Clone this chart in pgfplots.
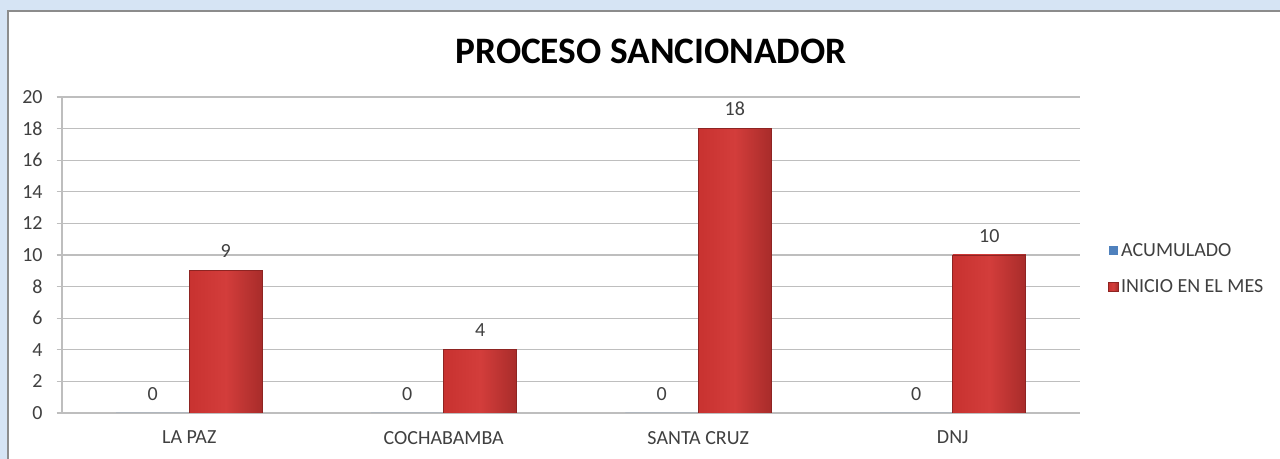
\documentclass[border=0pt]{standalone}
\usepackage{fontspec}
\setmainfont{Carlito}
\usepackage{pgfplots}
\pgfplotsset{compat=1.18}
\definecolor{bgblue}{HTML}{D6E4F4}
\definecolor{framegray}{HTML}{8C8C8C}
\definecolor{gridgray}{HTML}{BEBEBE}
\definecolor{txtgray}{HTML}{404040}
\definecolor{accblue}{HTML}{4F81BD}
\definecolor{redL}{HTML}{C83230}
\definecolor{redM}{HTML}{D33D3B}
\definecolor{redR}{HTML}{A82C2A}
\definecolor{redE}{HTML}{8E2422}
\begin{document}
\begin{tikzpicture}[x=0.75pt,y=0.75pt]
\useasboundingbox (0,0) rectangle (1280,459);
\fill[bgblue] (0,0) rectangle (1280,459);
\draw[fill=white,draw=framegray,line width=1.2pt] (8,-10) rectangle (1295,448);
\node[font=\bfseries\fontsize{28}{32}\selectfont,text=black] at (651,408) {PROCESO SANCIONADOR};
\begin{axis}[
  at={(46.5pt,34.5pt)}, anchor=south west,
  scale only axis, width=763.5pt, height=237pt,
  ybar=0pt, bar width=54.75pt,
  xmin=-0.5, xmax=3.5, ymin=0, ymax=20,
  ytick={0,2,...,20},
  xtick={0,1,2,3},
  xticklabels={LA PAZ,COCHABAMBA,SANTA CRUZ,DNJ},
  /pgf/number format/assume math mode=true,
  axis x line*=bottom, axis y line*=left,
  axis line style={gridgray,line width=0.8pt,-},
  ymajorgrids, major grid style={gridgray,line width=0.8pt},
  x tick style={draw=none},
  y tick style={gridgray,line width=0.8pt},
  major tick length=4pt, tick align=outside,
  ticklabel style={font=\fontsize{15}{17}\selectfont,text=txtgray},
  yticklabel style={xshift=-7pt},
  xticklabel style={yshift=-6pt},
  nodes near coords,
  every node near coord/.append style={font=\fontsize{15}{17}\selectfont,text=txtgray,yshift=6pt},
  legend style={at={(1.0275,0.456)},anchor=west,draw=none,fill=none,
    font=\fontsize{15}{17}\selectfont,text=txtgray,row sep=12pt,inner sep=0pt},
  legend cell align=left,
  legend image code/.code={\fill[#1] (0pt,-3.5pt) rectangle (7pt,3.5pt);},
  redbar/.style={draw=redE,line width=0.6pt,left color=redL,right color=redR,middle color=redM,bar shift=27.375pt},
]
\addplot[draw=none,fill=accblue,bar shift=-27.375pt] coordinates {(0,0) (1,0) (2,0) (3,0)};
\addplot[redbar] coordinates {(0,9)};
\addplot[redbar,forget plot] coordinates {(1,4)};
\addplot[redbar,forget plot] coordinates {(2,18)};
\addplot[redbar,forget plot] coordinates {(3,10)};
\legend{ACUMULADO,INICIO EN EL MES}
\end{axis}
\end{tikzpicture}
\end{document}
